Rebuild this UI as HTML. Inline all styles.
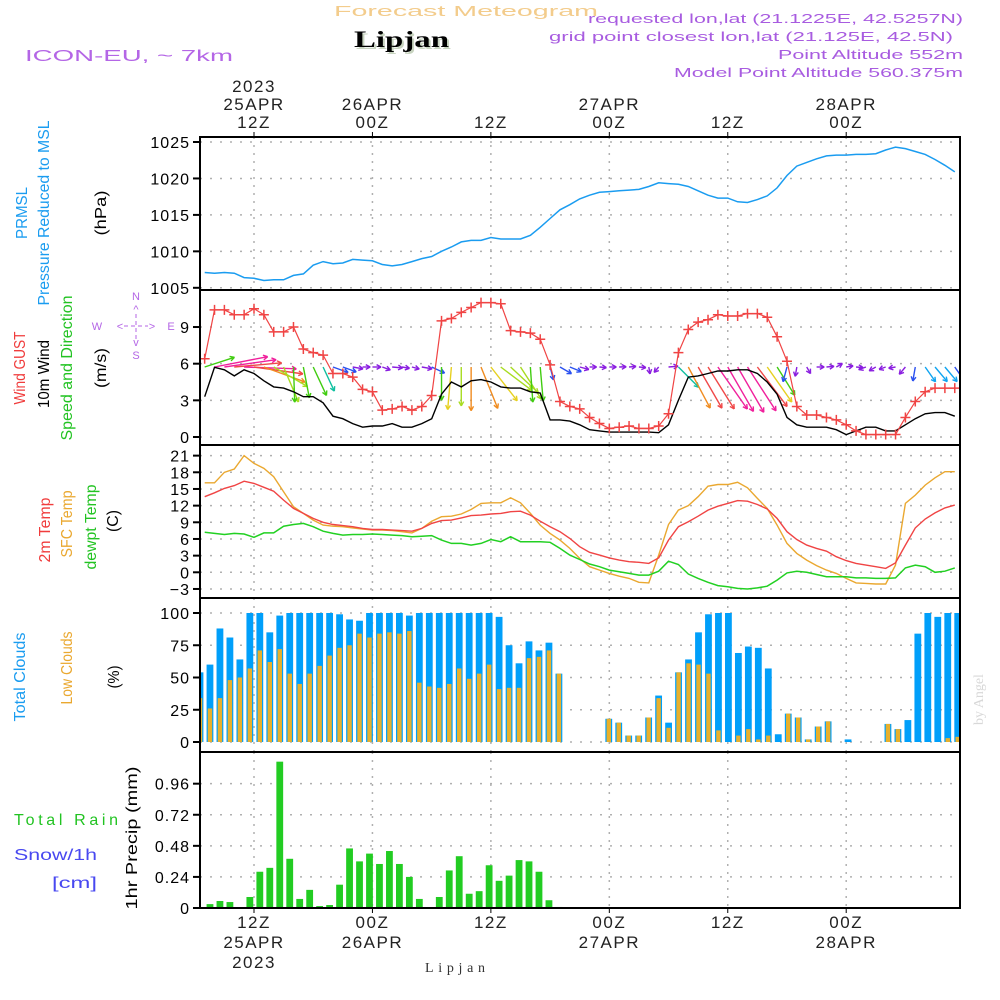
<!DOCTYPE html>
<html><head><meta charset="utf-8"><title>Forecast Meteogram Lipjan</title>
<style>
html,body{margin:0;padding:0;background:#fff;}
svg{display:block;font-family:"Liberation Sans",sans-serif;}
</style></head>
<body>
<svg id="chart" width="1000" height="1000" viewBox="0 0 1000 1000" xmlns="http://www.w3.org/2000/svg">
<rect x="0" y="0" width="1000" height="1000" fill="#fff"/>
<text x="334" y="16" font-size="15" fill="#f3cc8c" textLength="264" lengthAdjust="spacingAndGlyphs">Forecast Meteogram</text>
<text x="356" y="49" font-family="Liberation Serif,serif" font-weight="bold" font-size="23" fill="#c8d4c0" textLength="95" lengthAdjust="spacingAndGlyphs">Lipjan</text>
<text x="354" y="47" font-family="Liberation Serif,serif" font-weight="bold" font-size="23" fill="#000" textLength="95" lengthAdjust="spacingAndGlyphs">Lipjan</text>
<text x="25" y="61" font-size="16" fill="#b466e6" textLength="208" lengthAdjust="spacingAndGlyphs">ICON-EU, ~ 7km</text>
<g fill="#a85ce0" font-size="13" text-anchor="end">
<text x="963" y="23" textLength="375" lengthAdjust="spacingAndGlyphs">requested lon,lat (21.1225E, 42.5257N)</text>
<text x="953" y="41" textLength="404" lengthAdjust="spacingAndGlyphs">grid point closest lon,lat (21.125E, 42.5N)</text>
<text x="963" y="59" textLength="185" lengthAdjust="spacingAndGlyphs">Point Altitude 552m</text>
<text x="963" y="77" textLength="289" lengthAdjust="spacingAndGlyphs">Model Point Altitude 560.375m</text>
</g>
<g font-size="16">
<text transform="translate(27,213) rotate(-90)" text-anchor="middle" fill="#1a9cf0" textLength="52" lengthAdjust="spacingAndGlyphs">PRMSL</text>
<text transform="translate(49,213) rotate(-90)" text-anchor="middle" fill="#1a9cf0" textLength="185" lengthAdjust="spacingAndGlyphs">Pressure Reduced to MSL</text>
<text transform="translate(106,213) rotate(-90)" text-anchor="middle" fill="#000" textLength="45" lengthAdjust="spacingAndGlyphs">(hPa)</text>
<text transform="translate(25,368) rotate(-90)" text-anchor="middle" fill="#f03c3c" textLength="73" lengthAdjust="spacingAndGlyphs">Wind GUST</text>
<text transform="translate(49,374) rotate(-90)" text-anchor="middle" fill="#000" textLength="68" lengthAdjust="spacingAndGlyphs">10m Wind</text>
<text transform="translate(72,368) rotate(-90)" text-anchor="middle" fill="#22c322" textLength="145" lengthAdjust="spacingAndGlyphs">Speed and Direction</text>
<text transform="translate(106,368) rotate(-90)" text-anchor="middle" fill="#000" textLength="40" lengthAdjust="spacingAndGlyphs">(m/s)</text>
<text transform="translate(50,530) rotate(-90)" text-anchor="middle" fill="#f03c3c" textLength="65" lengthAdjust="spacingAndGlyphs">2m Temp</text>
<text transform="translate(72,524) rotate(-90)" text-anchor="middle" fill="#eaa830" textLength="67" lengthAdjust="spacingAndGlyphs">SFC Temp</text>
<text transform="translate(96,527) rotate(-90)" text-anchor="middle" fill="#22c322" textLength="85" lengthAdjust="spacingAndGlyphs">dewpt Temp</text>
<text transform="translate(118,521) rotate(-90)" text-anchor="middle" fill="#000" textLength="22" lengthAdjust="spacingAndGlyphs">(C)</text>
<text transform="translate(25,677) rotate(-90)" text-anchor="middle" fill="#1a9cf0" textLength="89" lengthAdjust="spacingAndGlyphs">Total Clouds</text>
<text transform="translate(72,668) rotate(-90)" text-anchor="middle" fill="#eaa830" textLength="73" lengthAdjust="spacingAndGlyphs">Low Clouds</text>
<text transform="translate(119,677) rotate(-90)" text-anchor="middle" fill="#000" textLength="23" lengthAdjust="spacingAndGlyphs">(%)</text>
<text x="14" y="825" fill="#22c322" textLength="104" lengthAdjust="spacing">Total  Rain</text>
<text x="14" y="860" fill="#4848f0" textLength="83" lengthAdjust="spacingAndGlyphs">Snow/1h</text>
<text x="52" y="888" fill="#4848f0" textLength="45" lengthAdjust="spacingAndGlyphs">[cm]</text>
<text transform="translate(137,838) rotate(-90)" text-anchor="middle" fill="#000" textLength="143" lengthAdjust="spacingAndGlyphs">1hr Precip (mm)</text>
</g>
<g fill="#b466e6" stroke="none" font-size="11" text-anchor="middle">
<text x="136" y="300">N</text><text x="136" y="359">S</text><text x="97" y="330">W</text><text x="171" y="330">E</text>
<text x="136" y="313">^</text><text x="136" y="346">v</text><text x="120" y="330">&lt;</text><text x="152" y="330">&gt;</text>
<line x1="124" y1="326" x2="148" y2="326" stroke="#b466e6" stroke-dasharray="4 3"/>
<line x1="136" y1="314" x2="136" y2="340" stroke="#b466e6" stroke-dasharray="4 3"/>
</g>
<text transform="translate(983,725) rotate(-90)" font-family="Liberation Serif,serif" font-size="14" fill="#d8d8d8">by Angel</text>
<text x="425" y="972" font-family="Liberation Serif,serif" font-size="14" fill="#333" textLength="60" lengthAdjust="spacing">Lipjan</text>
<g id="plot"></g>
</svg>
<script>
const pressure = [1007.1,1007.0,1007.1,1007.0,1006.4,1006.3,1006.0,1006.1,1006.1,1006.7,1006.9,1008.1,1008.6,1008.3,1008.4,1008.9,1008.8,1008.7,1008.2,1008.0,1008.2,1008.6,1009.0,1009.3,1010.0,1010.6,1011.3,1011.5,1011.5,1011.9,1011.7,1011.7,1011.7,1012.2,1013.3,1014.5,1015.7,1016.4,1017.2,1017.7,1018.1,1018.2,1018.3,1018.4,1018.5,1018.9,1019.4,1019.3,1019.2,1018.9,1018.3,1017.7,1017.3,1017.3,1016.8,1016.7,1017.1,1017.6,1018.7,1020.4,1021.7,1022.2,1022.7,1023.1,1023.2,1023.2,1023.3,1023.3,1023.4,1023.9,1024.3,1024.1,1023.7,1023.3,1022.6,1021.8,1020.9];
const windGust = [6.4,10.4,10.4,10.0,10.0,10.5,10.0,8.6,8.6,9.0,7.2,6.9,6.7,5.2,5.2,4.9,3.9,3.7,2.2,2.3,2.5,2.2,2.5,3.4,9.5,9.7,10.2,10.6,11.0,11.0,10.9,8.7,8.6,8.5,8.0,5.9,2.9,2.5,2.3,1.6,1.1,0.7,0.8,0.9,0.7,0.7,0.9,1.9,6.9,8.8,9.4,9.6,10.0,9.9,9.9,10.1,10.1,9.8,8.2,6.2,2.5,1.8,1.8,1.6,1.4,1.0,0.5,0.2,0.2,0.2,0.2,1.6,2.9,3.7,4.0,4.0,4.0];
const wind10 = [3.3,5.7,5.5,5.0,5.5,5.2,4.6,4.1,4.0,3.7,3.3,3.3,2.8,1.7,1.5,1.1,0.8,0.9,0.9,1.1,0.8,0.8,1.1,1.5,3.5,4.5,4.1,4.6,4.7,4.5,4.1,4.0,4.0,3.7,3.6,1.4,1.4,1.3,1.0,0.6,0.5,0.4,0.4,0.4,0.4,0.4,0.35,1.0,3.0,4.9,5.0,5.2,5.4,5.4,5.5,5.5,5.2,4.5,3.5,1.6,1.0,0.8,0.8,0.8,0.6,0.2,0.5,0.8,0.8,0.5,0.5,1.0,1.5,1.9,2.0,2.0,1.7];
const windDirTo = [72,79,82,85,92,98,110,120,157,178,169,155,155,110,110,100,90,90,110,95,100,105,100,115,180,185,180,180,158,142,127,133,147,176,175,165,120,112,105,90,95,90,88,85,95,170,220,85,135,152,150,148,145,150,150,147,143,145,148,195,190,150,90,85,60,80,95,250,240,250,260,220,190,145,140,140,145];
const temp2m = [13.6,14.3,15.1,15.6,16.4,16.0,15.3,14.6,13.0,11.5,10.6,9.7,9.0,8.6,8.4,8.2,7.9,7.7,7.7,7.6,7.5,7.4,7.9,8.8,9.3,9.4,9.8,10.2,10.3,10.5,10.6,10.9,11.0,10.3,9.2,8.2,7.3,6.1,4.6,3.6,3.1,2.6,2.2,1.9,1.8,1.6,2.6,5.8,8.2,9.1,10.1,11.2,11.9,12.4,12.9,12.8,12.2,11.4,9.7,7.3,5.9,4.9,4.3,3.8,2.8,2.1,1.6,1.3,1.0,0.7,1.7,4.9,8.0,9.6,10.7,11.6,12.1];
const tempSfc = [16.1,16.1,18.0,18.6,21.0,19.6,18.7,17.2,14.5,11.8,10.6,9.4,8.5,8.3,8.2,8.0,7.8,7.6,7.6,7.5,7.3,7.1,7.9,9.2,10.0,10.1,10.5,11.3,12.4,12.5,12.5,13.4,12.5,10.6,8.5,7.0,5.8,4.3,2.5,1.0,0.4,-0.2,-0.7,-1.1,-1.8,-1.9,3.1,8.6,11.2,12.0,13.6,15.5,15.8,15.8,16.2,15.2,13.3,11.5,8.5,5.2,3.4,2.2,1.2,0.4,-0.2,-1.1,-1.9,-2.0,-2.1,-2.1,1.3,12.4,13.9,15.7,17.0,18.1,18.1];
const dewpoint = [7.2,7.0,6.8,7.0,6.9,6.3,7.1,7.1,8.3,8.6,8.8,8.2,7.4,7.0,6.7,6.8,6.8,6.9,6.8,6.7,6.6,6.4,6.5,6.6,5.8,5.2,5.2,4.9,5.2,5.9,5.5,6.4,5.5,5.5,5.5,5.4,4.3,3.1,2.3,1.5,1.0,0.4,0.1,-0.2,-0.5,-0.5,0.2,2.0,1.4,-0.3,-1.1,-1.8,-2.4,-2.6,-2.9,-3.0,-2.8,-2.5,-1.4,-0.1,0.2,0.0,-0.4,-0.8,-0.8,-0.8,-1.0,-1.0,-1.1,-1.1,-1.0,0.8,1.3,1.0,0.0,0.2,0.8];
const totalClouds = [54,60,88,81,64,100,100,85,98,100,100,100,100,100,99,95,94,100,100,100,100,98,100,100,100,100,100,100,100,100,97,75,61,78,71,77,53,0,0,0,0,18,15,5,5,19,36,15,54,64,85,99,100,100,69,74,73,57,6,22,19,2,12,16,0,2,0,0,0,14,10,17,84,100,97,100,100];
const lowClouds = [34,26,34,48,50,57,71,62,72,53,45,53,59,67,73,75,84,81,84,85,84,86,46,43,42,45,57,49,53,60,41,42,42,65,66,71,53,0,0,0,0,18,15,5,5,19,34,11,54,61,60,53,9,0,5,10,2,5,0,22,19,2,12,16,0,0,0,0,0,14,10,0,0,0,0,3,4];
const precip = [0,0.03,0.054,0.046,0,0.085,0.28,0.31,1.13,0.38,0.07,0.14,0.015,0.023,0.18,0.46,0.36,0.42,0.34,0.44,0.34,0.24,0.07,0,0.085,0.29,0.40,0.11,0.13,0.33,0.21,0.25,0.37,0.36,0.28,0.06,0.008,0,0,0,0,0,0,0,0,0,0,0,0,0,0,0,0,0,0,0,0,0,0,0,0,0,0,0,0,0,0,0,0,0,0,0,0,0,0,0,0];
const pressureTicks = [1005,1010,1015,1020,1025];
const windTicks = [0,3,6,9];
const tempTicks = [-3,0,3,6,9,12,15,18,21];
const cloudTicks = [0,25,50,75,100];
const precipTicks = [0,0.24,0.48,0.72,0.96];
const gridHours = [12,24,36,48,60,72];
const topTimeLabels = [["2023","25APR","12Z"],["","26APR","00Z"],["","","12Z"],["","27APR","00Z"],["","","12Z"],["","28APR","00Z"]];
const bottomTimeLabels = [["12Z","25APR","2023"],["00Z","26APR",""],["12Z","",""],["00Z","27APR",""],["12Z","",""],["00Z","28APR",""]];
const firstHour = 7;

const L = 200, R = 960;
const xH = h => 254 + (h - 12) * 9.87;
const xS = k => xH(firstHour + k);
const xB = i => 200 + i * 9.97;
const yP = p => 142 + (1025 - p) * 7.29;
const yW = s => 437 - s * 12.22;
const yT = t => 572.3 - t * 5.556;
const yC = c => 742 - c * 1.29;
const yR = r => 908 - r * 129.5;
const panels = [[137,290],[290,445],[445,598],[598,752],[752,908]];

const NS = "http://www.w3.org/2000/svg";
const root = document.getElementById("plot");
function mk(tag, attrs, parent) {
  const e = document.createElementNS(NS, tag);
  for (const k in attrs) e.setAttribute(k, attrs[k]);
  (parent || root).appendChild(e);
  return e;
}
function clipFor(i){ return "url(#clip" + i + ")"; }
const defs = mk("defs", {});
panels.forEach((p, i) => {
  const c = mk("clipPath", {id: "clip" + i}, defs);
  mk("rect", {x: L, y: p[0], width: R - L, height: p[1] - p[0]}, c);
});

const gridG = mk("g", {stroke: "#b0b0b0", "stroke-width": 1.5, "stroke-dasharray": "2 8"});


function hGrid(vals, fy) {
  vals.forEach(v => {
    const y = fy(v);
    mk("line", {x1: L, x2: R, y1: y, y2: y}, gridG);
  });
}
hGrid(pressureTicks, yP); hGrid(windTicks, yW); hGrid(tempTicks, yT); hGrid(cloudTicks, yC); hGrid(precipTicks, yR);
gridHours.forEach(h => {
  const x = xH(h);
  panels.forEach(p => mk("line", {x1: x, x2: x, y1: p[0], y2: p[1], "stroke-dasharray": "2 6"}, gridG));
});

function yTicks(vals, fy, name, fmt) {
  const g = mk("g", {"font-size": 16, "text-anchor": "end", fill: "#000"});
  
  
  vals.forEach(v => {
    const y = fy(v);
    const t = mk("text", {x: 190, y: y + 6, "letter-spacing": "1"}, g);
    t.textContent = fmt ? fmt(v) : String(v);
    mk("line", {x1: 193, x2: 200, y1: y, y2: y, stroke: "#000", "stroke-width": 2}, g);
  });
}
yTicks(pressureTicks, yP, "pressure-y-axis");
yTicks(windTicks, yW, "wind-y-axis");
yTicks(tempTicks, yT, "temp-y-axis", v => v < 0 ? "\u2212" + (-v) : String(v));
yTicks(cloudTicks, yC, "cloud-y-axis");
yTicks(precipTicks, yR, "precip-y-axis", v => v === 0 ? "0" : v.toFixed(2));

const topG = mk("g", {"font-size": 17, "text-anchor": "middle", fill: "#222", "letter-spacing": "1.5"});


gridHours.forEach((h, i) => {
  const x = xH(h);
  const lab = topTimeLabels[i];
  [92, 110, 128].forEach((y, j) => { if (lab[j]) { const t = mk("text", {x: x, y: y}, topG); t.textContent = lab[j]; } });
  mk("line", {x1: x, x2: x, y1: 132, y2: 137, stroke: "#000"}, topG);
});
const botG = mk("g", {"font-size": 17, "text-anchor": "middle", fill: "#222", "letter-spacing": "1.5"});


gridHours.forEach((h, i) => {
  const x = xH(h);
  const lab = bottomTimeLabels[i];
  [928, 948, 968].forEach((y, j) => { if (lab[j]) { const t = mk("text", {x: x, y: y}, botG); t.textContent = lab[j]; } });
  mk("line", {x1: x, x2: x, y1: 908, y2: 913, stroke: "#000"}, botG);
});

function line(vals, fy, color, name, clipIdx, w) {
  const pts = vals.map((v, k) => xS(k).toFixed(1) + "," + fy(v).toFixed(1)).join(" ");
  const pl = mk("polyline", {points: pts, fill: "none", stroke: color, "stroke-width": w || 1.4, "clip-path": clipFor(clipIdx)});
  
  
  return pl;
}

line(pressure, yP, "#1a9cf0", "pressure-line", 0, 1.5);

function arrowColor(s) {
  if (s < 1.2) return "#8a1ee0";
  if (s < 1.8) return "#2a50f0";
  if (s < 2.6) return "#10a4f0";
  if (s < 3.2) return "#10c0a0";
  if (s < 3.8) return "#40cc10";
  if (s < 4.3) return "#a8dc20";
  if (s < 4.6) return "#e6d020";
  if (s < 5.0) return "#f08c20";
  if (s < 5.4) return "#f04848";
  return "#f0209c";
}
const arrG = mk("g", {"stroke-width": 1.4, fill: "none", "clip-path": clipFor(1)});


windDirTo.forEach((d, k) => {
  const s = wind10[k];
  const len = Math.max(7, s * 9.5);
  const a = d * Math.PI / 180;
  const x0 = xS(k), y0 = 367;
  const x1 = x0 + Math.sin(a) * len, y1 = y0 - Math.cos(a) * len;
  const col = arrowColor(s);
  const g = mk("g", {stroke: col}, arrG);
  
  
  mk("line", {x1: x0, y1: y0, x2: x1, y2: y1}, g);
  const hl = 5, ang = Math.atan2(y1 - y0, x1 - x0);
  [0.5, -0.5].forEach(o => mk("line", {x1: x1, y1: y1, x2: x1 - hl * Math.cos(ang + o), y2: y1 - hl * Math.sin(ang + o)}, g));
});

line(wind10, yW, "#000", "wind-10m-line", 1, 1.4);
line(windGust, yW, "#f04444", "wind-gust-line", 1, 1.2);
const gustG = mk("g", {stroke: "#f04444", "stroke-width": 1.5, "clip-path": clipFor(1)});


windGust.forEach((v, k) => {
  const x = xS(k), y = yW(v);
  mk("path", {d: `M${x-5},${y}H${x+5}M${x},${y-5}V${y+5}`}, gustG);
});

line(tempSfc, yT, "#eaa830", "sfc-temp-line", 2, 1.4);
line(temp2m, yT, "#f04444", "temp-2m-line", 2, 1.4);
line(dewpoint, yT, "#22d022", "dewpoint-line", 2, 1.5);

const cG = mk("g", {"clip-path": clipFor(3)});


totalClouds.forEach((v, i) => {
  const x = xB(i);
  const b = mk("rect", {x: x - 3.4, y: yC(v), width: 6.8, height: Math.max(0, yC(0) - yC(v)), fill: "#009ffa"}, cG);
  
  
  const lv = lowClouds[i];
  const o = mk("rect", {x: x - 2.2, y: yC(lv), width: 4.4, height: Math.max(0, yC(0) - yC(lv)), fill: "#e8b02c"}, cG);
  
  
});

const pG = mk("g", {"clip-path": clipFor(4)});


precip.forEach((v, i) => {
  if (v <= 0) return;
  const x = xB(i);
  const b = mk("rect", {x: x - 3.4, y: yR(v), width: 6.8, height: yR(0) - yR(v), fill: "#22cc22"}, pG);
  
  
});

const fG = mk("g", {fill: "none", stroke: "#000", "stroke-width": 2});


panels.forEach(p => mk("rect", {x: L, y: p[0], width: R - L, height: p[1] - p[0]}, fG));
</script>
</body></html>
